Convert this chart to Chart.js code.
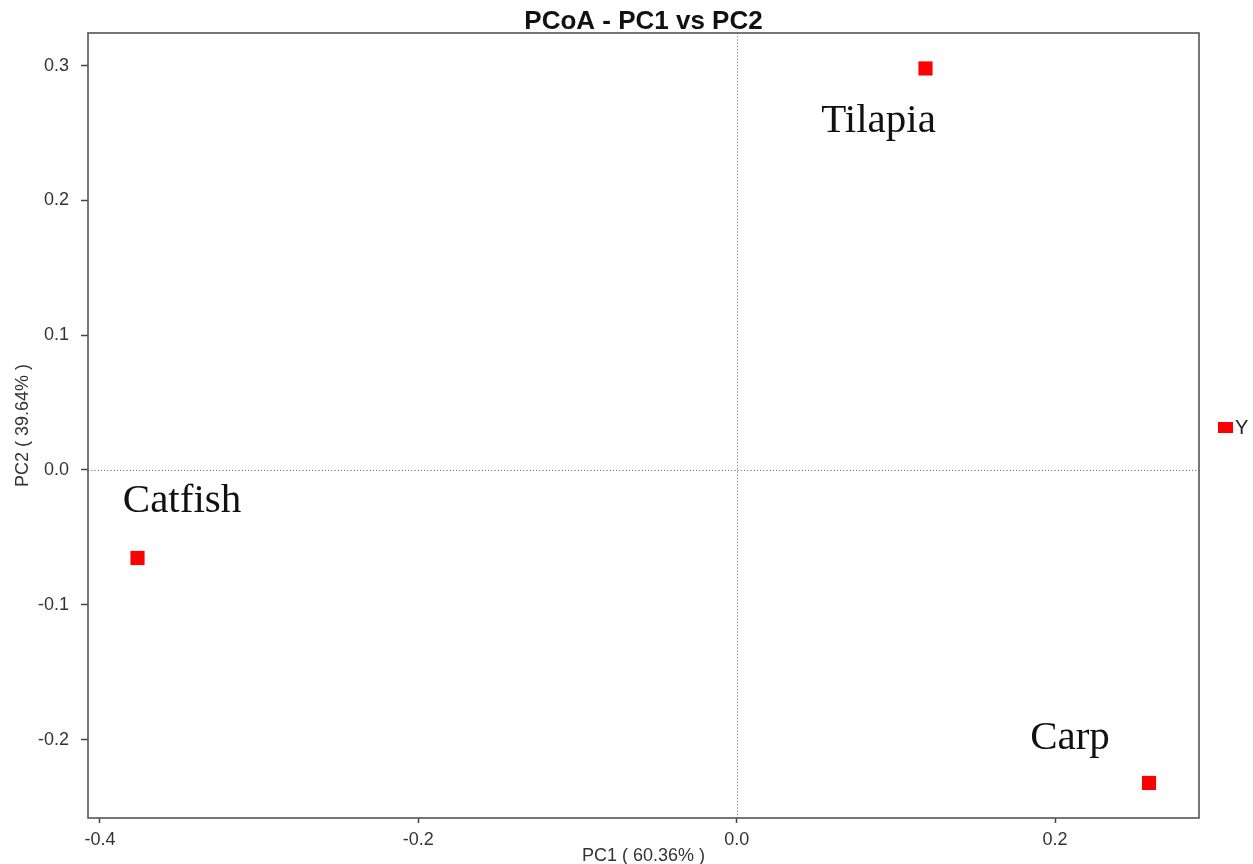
<!DOCTYPE html>
<html><head><meta charset="utf-8">
<script src="https://cdn.jsdelivr.net/npm/chart.js@4/dist/chart.umd.min.js"></script>
<style>html,body{margin:0;padding:0;background:#fff;overflow:hidden}</style>
</head><body>
<canvas id="c" width="1253" height="864" style="display:block;width:1253px;height:864px"></canvas>
<script>
// ---- data ----
const sampleNames = ['Tilapia', 'Catfish', 'Carp'];
const pc1Values = [0.1186, -0.3764, 0.2590];
const pc2Values = [0.2979, -0.0653, -0.2322];
const seriesName = 'Y';
const xTickValues = [-0.4, -0.2, 0.0, 0.2];
const yTickValues = [-0.2, -0.1, 0.0, 0.1, 0.2, 0.3];
const chartTitle = 'PCoA - PC1 vs PC2';
const xAxisTitle = 'PC1 ( 60.36% )';
const yAxisTitle = 'PC2 ( 39.64% )';

const points = pc1Values.map((x, i) => ({ x: x, y: pc2Values[i] }));

// label placement (pixel offsets of text centre/baseline from its point)
const labelOffsets = [[-47, 63.5], [44.5, -46], [-79, -34]];

const decor = {
  id: 'decor',
  beforeDatasetsDraw(chart) {
    const { ctx, chartArea: a, scales: { x, y } } = chart;
    ctx.save();
    ctx.strokeStyle = '#7a7a7a';
    ctx.lineWidth = 1;
    ctx.setLineDash([1.2, 2]);
    const x0 = Math.round(x.getPixelForValue(0)) + 0.5;
    const y0 = Math.round(y.getPixelForValue(0)) + 0.5;
    ctx.beginPath();
    ctx.moveTo(x0, a.top); ctx.lineTo(x0, a.bottom);
    ctx.moveTo(a.left, y0); ctx.lineTo(a.right, y0);
    ctx.stroke();
    ctx.restore();
  },
  afterDraw(chart) {
    const { ctx, chartArea: a } = chart;
    ctx.save();
    // plot box
    ctx.strokeStyle = '#555';
    ctx.lineWidth = 1.6;
    ctx.strokeRect(a.left, a.top, a.right - a.left, a.bottom - a.top);
    // title
    ctx.fillStyle = '#111';
    ctx.font = 'bold 26px "Liberation Sans", Arial, sans-serif';
    ctx.textAlign = 'center';
    ctx.textBaseline = 'middle';
    ctx.fillText(chartTitle, (a.left + a.right) / 2, a.top - 11);
    // sample labels
    const meta = chart.getDatasetMeta(0);
    ctx.font = '41px "Liberation Serif", "Times New Roman", serif';
    ctx.fillStyle = '#111';
    ctx.textBaseline = 'alphabetic';
    meta.data.forEach((el, i) => {
      const o = labelOffsets[i];
      ctx.fillText(sampleNames[i], el.x + o[0], el.y + o[1]);
    });
    // legend
    const ds = chart.data.datasets[0];
    const ly = (a.top + a.bottom) / 2 + 2;
    ctx.fillStyle = ds.backgroundColor;
    ctx.fillRect(a.right + 19, ly - 5.5, 15, 11);
    ctx.fillStyle = '#222';
    ctx.font = '20px "Liberation Sans", Arial, sans-serif';
    ctx.textAlign = 'left';
    ctx.textBaseline = 'middle';
    ctx.fillText(ds.label, a.right + 36, ly + 1);
    ctx.restore();
  }
};

new Chart(document.getElementById('c'), {
  type: 'scatter',
  data: {
    datasets: [{
      label: seriesName,
      data: points,
      backgroundColor: '#ff0000',
      borderColor: '#ff0000',
      borderWidth: 0,
      pointStyle: 'rect',
      pointRadius: 10,
      pointHoverRadius: 10
    }]
  },
  options: {
    responsive: false,
    animation: false,
    devicePixelRatio: 1,
    layout: { padding: { top: 33, right: 54, left: 0, bottom: 0 } },
    plugins: { legend: { display: false }, title: { display: false }, tooltip: { enabled: false } },
    scales: {
      x: {
        type: 'linear',
        min: -0.4075, max: 0.2904,
        afterBuildTicks: s => { s.ticks = xTickValues.map(v => ({ value: v })); },
        afterFit: s => { s.height = 46; },
        border: { display: false },
        grid: { drawOnChartArea: false, drawTicks: true, tickLength: 5, tickColor: '#444', tickWidth: 1.5 },
        ticks: {
          padding: 6, color: '#333',
          font: { family: '"Liberation Sans", Arial, sans-serif', size: 18 },
          callback: v => Number(v).toFixed(1)
        },
        title: {
          display: true, text: xAxisTitle, color: '#333',
          font: { family: '"Liberation Sans", Arial, sans-serif', size: 18 },
          padding: { top: 0, bottom: -3 }
        }
      },
      y: {
        type: 'linear',
        min: -0.2582, max: 0.3242,
        afterBuildTicks: s => { s.ticks = yTickValues.map(v => ({ value: v })); },
        afterFit: s => { s.width = 88; },
        border: { display: false },
        grid: { drawOnChartArea: false, drawTicks: true, tickLength: 7, tickColor: '#444', tickWidth: 1.5 },
        ticks: {
          padding: 12, color: '#333',
          font: { family: '"Liberation Sans", Arial, sans-serif', size: 18 },
          callback: v => Number(v).toFixed(1)
        },
        title: {
          display: true, text: yAxisTitle, color: '#333',
          font: { family: '"Liberation Sans", Arial, sans-serif', size: 18 },
          padding: { top: 12, bottom: 0 }
        }
      }
    }
  },
  plugins: [decor]
});
</script>
</body></html>
